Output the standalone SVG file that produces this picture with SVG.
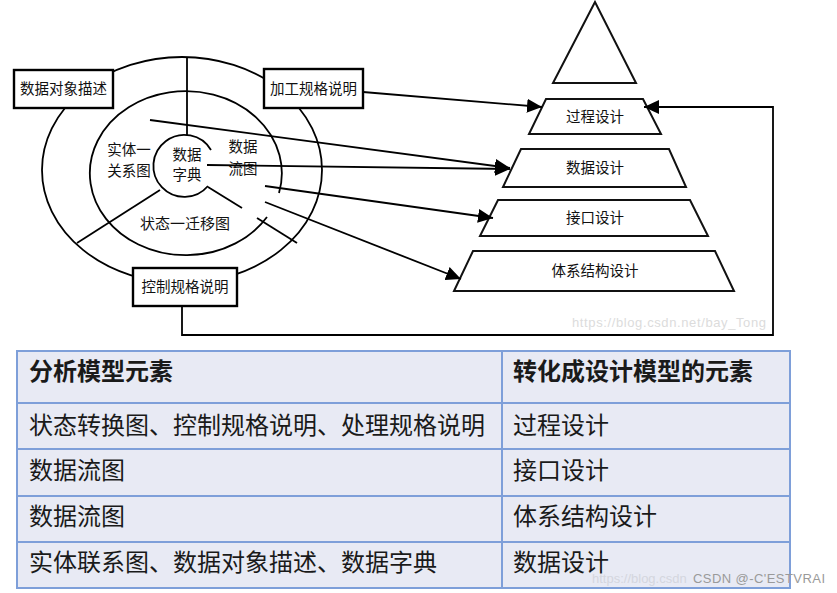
<svg xmlns="http://www.w3.org/2000/svg" width="837" height="593" viewBox="0 0 837 593">
<defs>
<marker id="ah" markerUnits="userSpaceOnUse" markerWidth="16" markerHeight="14" refX="15" refY="7" orient="auto">
<path d="M0,0 L15,7 L0,14 z" fill="#000"/>
</marker>
<style>
.ln{fill:none;stroke:#000;stroke-width:1.8}
.box{fill:#fff;stroke:#000;stroke-width:2.4}
.tr{fill:#fff;stroke:#111;stroke-width:2}
.t{font-family:"Noto Sans CJK SC","Noto Sans",sans-serif;fill:#111;text-anchor:middle}
.d{font-size:14.5px}
.cell{fill:#E8EAF4;stroke:#7E9FD9;stroke-width:2}
.tt{font-family:"Noto Sans CJK SC","Noto Sans",sans-serif;font-size:24px;fill:#1a1a1a}
.wm{font-family:"Liberation Sans",Arial,sans-serif;font-size:13px}
</style>
</defs>
<rect width="837" height="593" fill="#fff"/>

<g id="analysis-model">
<ellipse cx="182" cy="170" rx="140" ry="113" class="ln"/>
<path d="M267,217 A96,82 0 1 1 279,193" class="ln"/>
<path d="M211,150 A31,31 0 1 0 208,186" class="ln"/>
<line x1="187" y1="57" x2="187" y2="135" class="ln"/>
<line x1="160" y1="190" x2="77" y2="243" class="ln"/>
<line x1="208" y1="187" x2="242" y2="208" class="ln"/>
<line x1="257" y1="218" x2="297" y2="243" class="ln"/>
<text class="t d" x="129" y="155">实体一</text>
<text class="t d" x="129" y="176">关系图</text>
<text class="t d" x="187" y="160">数据</text>
<text class="t d" x="187" y="180">字典</text>
<text class="t d" x="243" y="152">数据</text>
<text class="t d" x="243" y="174">流图</text>
<text class="t" style="font-size:15px" x="185" y="229">状态一迁移图</text>
</g>

<g id="box-data-object">
<rect x="14" y="70" width="99" height="38" class="box"/>
<text class="t d" x="63.5" y="94">数据对象描述</text>
</g>
<g id="box-process-spec">
<rect x="264" y="69" width="99" height="39" class="box"/>
<text class="t d" x="313.5" y="94">加工规格说明</text>
</g>
<g id="box-control-spec">
<rect x="133" y="268" width="104" height="38" class="box"/>
<text class="t d" x="185" y="292">控制规格说明</text>
</g>

<g id="pyramid-top">
<polygon points="595,2 553,83 636,83" class="tr"/>
</g>
<g id="procedure-design">
<polygon points="546,99 643,99 661,134 529,134" class="tr"/>
<text class="t d" x="595" y="122">过程设计</text>
</g>
<g id="data-design">
<polygon points="521,149 669,149 686,187 503,187" class="tr"/>
<text class="t d" x="595" y="173">数据设计</text>
</g>
<g id="interface-design">
<polygon points="498,200 690,200 708,236 480,236" class="tr"/>
<text class="t d" x="595" y="223">接口设计</text>
</g>
<g id="architecture-design">
<polygon points="473,251 715,251 734,291 454,291" class="tr"/>
<text class="t d" x="595" y="276">体系结构设计</text>
</g>

<g id="connectors">
<line x1="363" y1="92" x2="542" y2="107" class="ln" marker-end="url(#ah)"/>
<line x1="150" y1="120" x2="510" y2="168" class="ln" marker-end="url(#ah)"/>
<line x1="207" y1="165" x2="510" y2="169" class="ln" marker-end="url(#ah)"/>
<line x1="265" y1="186" x2="493" y2="218" class="ln" marker-end="url(#ah)"/>
<line x1="265" y1="202" x2="461" y2="279" class="ln" marker-end="url(#ah)"/>
<polyline points="182,306 182,335 773,335 773,107 644,107" class="ln" marker-end="url(#ah)"/>
</g>

<text class="wm" x="572" y="327" fill="#dcdcdc" textLength="194">https://blog.csdn.net/bay_Tong</text>

<g id="table">
<rect x="17" y="351" width="485" height="52" class="cell"/>
<rect x="502" y="351" width="288" height="52" class="cell"/>
<rect x="17" y="403" width="485" height="46" class="cell"/>
<rect x="502" y="403" width="288" height="46" class="cell"/>
<rect x="17" y="449" width="485" height="47" class="cell"/>
<rect x="502" y="449" width="288" height="47" class="cell"/>
<rect x="17" y="496" width="485" height="46" class="cell"/>
<rect x="502" y="496" width="288" height="46" class="cell"/>
<rect x="17" y="542" width="485" height="46" class="cell"/>
<rect x="502" y="542" width="288" height="46" class="cell"/>
<text class="tt" x="29" y="380" font-weight="bold">分析模型元素</text>
<text class="tt" x="513" y="380" font-weight="bold">转化成设计模型的元素</text>
<text class="tt" x="29" y="434">状态转换图、控制规格说明、处理规格说明</text>
<text class="tt" x="513" y="434">过程设计</text>
<text class="tt" x="29" y="479">数据流图</text>
<text class="tt" x="513" y="479">接口设计</text>
<text class="tt" x="29" y="525">数据流图</text>
<text class="tt" x="513" y="525">体系结构设计</text>
<text class="tt" x="29" y="571">实体联系图、数据对象描述、数据字典</text>
<text class="tt" x="513" y="571">数据设计</text>
</g>

<text class="wm" x="592" y="583" fill="#d4d6de">https://blog.csdn</text>
<text class="wm" x="693" y="583" fill="#9a9a9a" textLength="132">CSDN @-C'ESTVRAI</text>
</svg>
